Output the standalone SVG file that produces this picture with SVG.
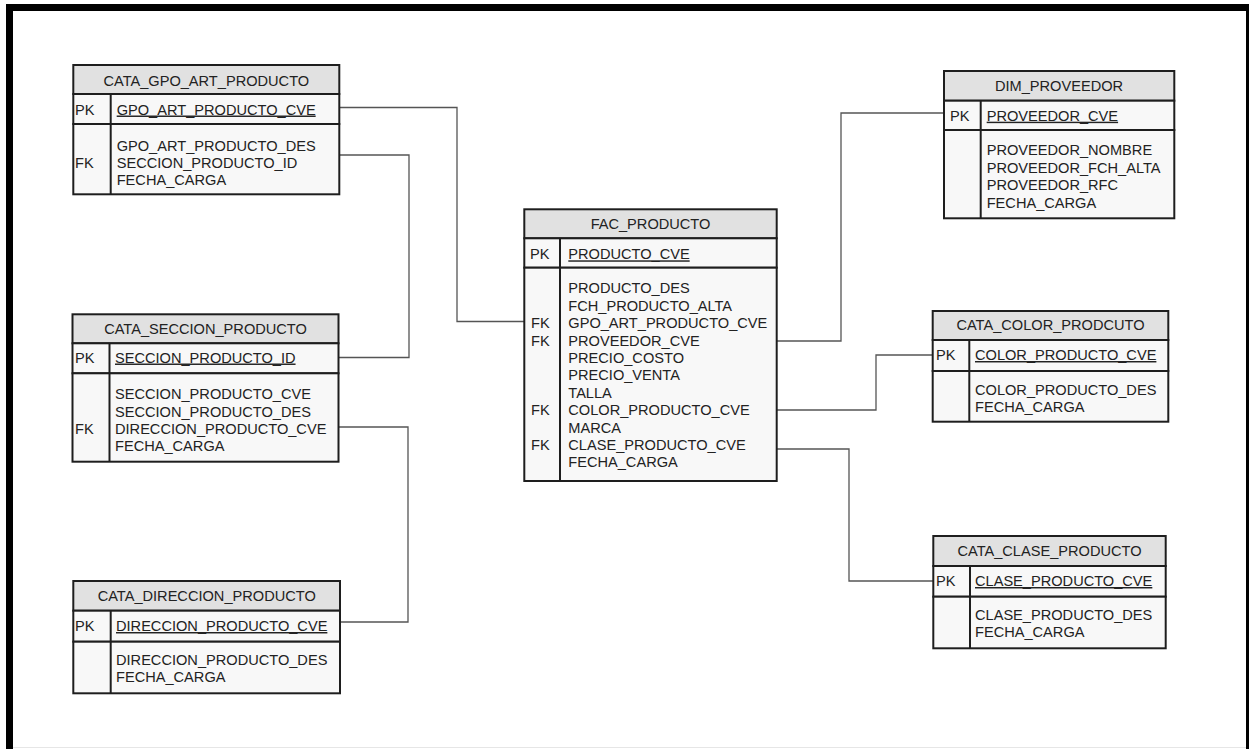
<svg xmlns="http://www.w3.org/2000/svg" width="1249" height="749" viewBox="0 0 1249 749">
<style>
.hdr{fill:#e1e1e1;stroke:#1e1e1e;stroke-width:2}
.row{fill:#f8f8f8;stroke:#1e1e1e;stroke-width:2}
.dv{stroke:#1e1e1e;stroke-width:2}
.t{font-family:"Liberation Sans",Arial,sans-serif;font-size:14.6px;fill:#222}
.c{text-anchor:middle}
.u{text-decoration:underline}
.cn{fill:none;stroke:#555;stroke-width:1.3}
</style>
<rect x="0" y="0" width="1249" height="749" fill="#ffffff"/>
<g id="frame">
<rect x="6" y="4" width="1243" height="7" fill="#000"/>
<rect x="6" y="4" width="7" height="745" fill="#000"/>
<rect x="1246" y="4" width="3" height="745" fill="#000"/>
<line x1="13" y1="747.5" x2="1246" y2="747.5" stroke="#e6e6e6" stroke-width="1"/>
</g>
<g id="connectors">
<polyline class="cn" points="339,107.5 457,107.5 457,321.5 524,321.5"/>
<polyline class="cn" points="339,155 409,155 409,357.5 338,357.5"/>
<polyline class="cn" points="338,427 408,427 408,622 340,622"/>
<polyline class="cn" points="777,341 841,341 841,113 944,113"/>
<polyline class="cn" points="777,410 876,410 876,355 933,355"/>
<polyline class="cn" points="777,449 849,449 849,581 933,581"/>
</g>
<g id="cata_gpo_art_producto">
<rect class="hdr" x="73.3" y="65" width="266" height="29"/>
<rect class="row" x="73.3" y="94" width="266" height="30"/>
<rect class="row" x="73.3" y="124" width="266" height="70.3"/>
<line class="dv" x1="110.7" y1="94" x2="110.7" y2="194.3"/>
<text class="t c" x="206.3" y="85.5">CATA_GPO_ART_PRODUCTO</text>
<text class="t" x="75" y="114.5">PK</text>
<text class="t u" x="116.7" y="114.5">GPO_ART_PRODUCTO_CVE</text>
<text class="t" x="116.7" y="150.5">GPO_ART_PRODUCTO_DES</text>
<text class="t" x="116.7" y="167.7">SECCION_PRODUCTO_ID</text>
<text class="t" x="116.7" y="184.9">FECHA_CARGA</text>
<text class="t" x="75" y="167.7">FK</text>
</g>
<g id="cata_seccion_producto">
<rect class="hdr" x="72.5" y="314.3" width="266" height="29"/>
<rect class="row" x="72.5" y="343.3" width="266" height="30"/>
<rect class="row" x="72.5" y="373.3" width="266" height="88.4"/>
<line class="dv" x1="109.5" y1="343.3" x2="109.5" y2="461.7"/>
<text class="t c" x="205.5" y="333.5">CATA_SECCION_PRODUCTO</text>
<text class="t" x="75" y="362.5">PK</text>
<text class="t u" x="115" y="362.5">SECCION_PRODUCTO_ID</text>
<text class="t" x="115" y="399.3">SECCION_PRODUCTO_CVE</text>
<text class="t" x="115" y="416.5">SECCION_PRODUCTO_DES</text>
<text class="t" x="115" y="433.7">DIRECCION_PRODUCTO_CVE</text>
<text class="t" x="115" y="450.9">FECHA_CARGA</text>
<text class="t" x="75" y="433.7">FK</text>
</g>
<g id="cata_direccion_producto">
<rect class="hdr" x="73.3" y="581" width="266.7" height="29.7"/>
<rect class="row" x="73.3" y="610.7" width="266.7" height="31"/>
<rect class="row" x="73.3" y="641.7" width="266.7" height="51.6"/>
<line class="dv" x1="110.7" y1="610.7" x2="110.7" y2="693.3"/>
<text class="t c" x="206.7" y="601">CATA_DIRECCION_PRODUCTO</text>
<text class="t" x="75" y="631">PK</text>
<text class="t u" x="116" y="631">DIRECCION_PRODUCTO_CVE</text>
<text class="t" x="116" y="665">DIRECCION_PRODUCTO_DES</text>
<text class="t" x="116" y="682">FECHA_CARGA</text>
</g>
<g id="fac_producto">
<rect class="hdr" x="524.3" y="209.3" width="252.4" height="29"/>
<rect class="row" x="524.3" y="238.3" width="252.4" height="29.4"/>
<rect class="row" x="524.3" y="267.7" width="252.4" height="213.3"/>
<line class="dv" x1="560" y1="238.3" x2="560" y2="481"/>
<text class="t c" x="650.5" y="228.5">FAC_PRODUCTO</text>
<text class="t" x="530" y="259.3">PK</text>
<text class="t u" x="568.3" y="259.3">PRODUCTO_CVE</text>
<text class="t" x="568.3" y="293.3">PRODUCTO_DES</text>
<text class="t" x="568.3" y="310.7">FCH_PRODUCTO_ALTA</text>
<text class="t" x="568.3" y="328.1">GPO_ART_PRODUCTO_CVE</text>
<text class="t" x="568.3" y="345.5">PROVEEDOR_CVE</text>
<text class="t" x="568.3" y="362.9">PRECIO_COSTO</text>
<text class="t" x="568.3" y="380.3">PRECIO_VENTA</text>
<text class="t" x="568.3" y="397.7">TALLA</text>
<text class="t" x="568.3" y="415.1">COLOR_PRODUCTO_CVE</text>
<text class="t" x="568.3" y="432.5">MARCA</text>
<text class="t" x="568.3" y="449.9">CLASE_PRODUCTO_CVE</text>
<text class="t" x="568.3" y="467.3">FECHA_CARGA</text>
<text class="t" x="531" y="328.1">FK</text>
<text class="t" x="531" y="345.5">FK</text>
<text class="t" x="531" y="415.1">FK</text>
<text class="t" x="531" y="449.9">FK</text>
</g>
<g id="dim_proveedor">
<rect class="hdr" x="944" y="71" width="230.3" height="29.7"/>
<rect class="row" x="944" y="100.7" width="230.3" height="29.3"/>
<rect class="row" x="944" y="130" width="230.3" height="88.3"/>
<line class="dv" x1="980.7" y1="100.7" x2="980.7" y2="218.3"/>
<text class="t c" x="1059" y="90.7">DIM_PROVEEDOR</text>
<text class="t" x="950" y="120.7">PK</text>
<text class="t u" x="986.7" y="120.7">PROVEEDOR_CVE</text>
<text class="t" x="986.7" y="155">PROVEEDOR_NOMBRE</text>
<text class="t" x="986.7" y="172.5">PROVEEDOR_FCH_ALTA</text>
<text class="t" x="986.7" y="190">PROVEEDOR_RFC</text>
<text class="t" x="986.7" y="207.5">FECHA_CARGA</text>
</g>
<g id="cata_color_prodcuto">
<rect class="hdr" x="932.7" y="311" width="235.6" height="29"/>
<rect class="row" x="932.7" y="340" width="235.6" height="31"/>
<rect class="row" x="932.7" y="371" width="235.6" height="50.7"/>
<line class="dv" x1="969.3" y1="340" x2="969.3" y2="421.7"/>
<text class="t c" x="1050.5" y="329.5">CATA_COLOR_PRODCUTO</text>
<text class="t" x="936" y="360">PK</text>
<text class="t u" x="975" y="360">COLOR_PRODUCTO_CVE</text>
<text class="t" x="975" y="395">COLOR_PRODUCTO_DES</text>
<text class="t" x="975" y="412">FECHA_CARGA</text>
</g>
<g id="cata_clase_producto">
<rect class="hdr" x="933.3" y="536" width="232.4" height="30"/>
<rect class="row" x="933.3" y="566" width="232.4" height="30.7"/>
<rect class="row" x="933.3" y="596.7" width="232.4" height="51.6"/>
<line class="dv" x1="970" y1="566" x2="970" y2="648.3"/>
<text class="t c" x="1049.5" y="555.7">CATA_CLASE_PRODUCTO</text>
<text class="t" x="936" y="586">PK</text>
<text class="t u" x="975" y="586">CLASE_PRODUCTO_CVE</text>
<text class="t" x="975" y="620">CLASE_PRODUCTO_DES</text>
<text class="t" x="975" y="637.3">FECHA_CARGA</text>
</g>
</svg>
